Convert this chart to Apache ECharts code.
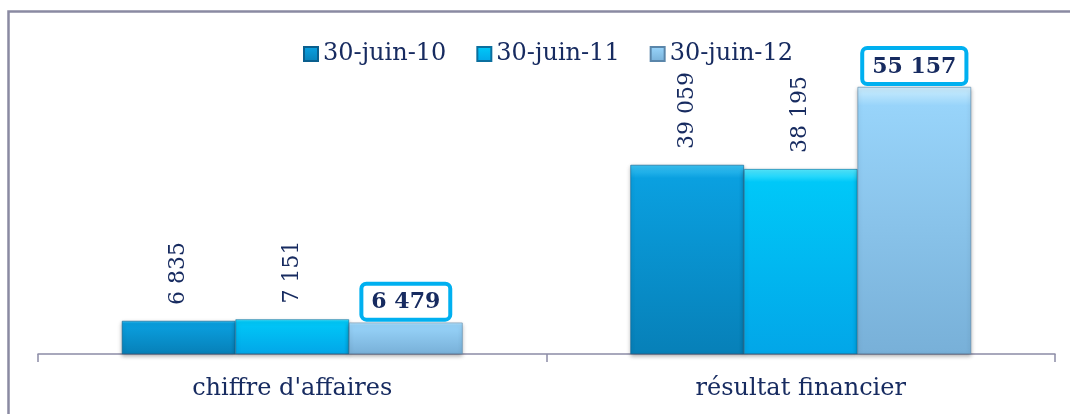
<!DOCTYPE html>
<html>
<head>
<meta charset="utf-8">
<script src="https://cdn.jsdelivr.net/npm/echarts@6/dist/echarts.min.js"></script>
<style>
html,body{margin:0;padding:0;background:#fff;}
#chart{width:1070px;height:414px;}
</style>
</head>
<body>
<div id="chart"></div>
<script>
var categories = ["chiffre d'affaires", "résultat financier"];
var seriesNames = ['30-juin-10', '30-juin-11', '30-juin-12'];
var juin10 = [6835, 39059];
var juin11 = [7151, 38195];
var juin12 = [6479, 55157];

var textColor = '#172b60';
var fontFamily = '"DejaVu Serif", "Liberation Serif", serif';

//format 6835 -> "6 835"
function formatValue(v){
    return String(v).replace(/\B(?=(\d{3})+(?!\d))/g, ' ');
}

function barColor(top, mid, bottom){
    return new echarts.graphic.LinearGradient(0, 0, 0, 1, [
        {offset: 0, color: top},
        {offset: 0.07, color: mid},
        {offset: 1, color: bottom}
    ]);
}

var rotatedLabel = {
    show: true,
    position: 'top',
    rotate: 90,
    align: 'left',
    verticalAlign: 'middle',
    distance: 16,
    color: textColor,
    fontFamily: fontFamily,
    fontSize: 22,
    formatter: function(p){ return formatValue(p.value); }
};

var chart = echarts.init(document.getElementById('chart'));
chart.setOption({
    animation: false,
    backgroundColor: '#fff',
    graphic: [{
        type: 'polyline',
        shape: {points: [[8.5, 414], [8.5, 11.5], [1070, 11.5]]},
        style: {stroke: '#8a8aa2', lineWidth: 2.5, fill: null}
    }],
    legend: {
        left: 298,
        top: 37,
        itemWidth: 14,
        itemHeight: 14,
        itemGap: 30,
        icon: 'rect',
        data: seriesNames,
        textStyle: {color: textColor, fontFamily: fontFamily, fontSize: 24}
    },
    grid: {left: 38, right: 15, top: 63.5, bottom: 60},
    xAxis: {
        type: 'category',
        data: categories,
        axisLine: {show: true, lineStyle: {color: '#8c8ca6', width: 1.5}},
        axisTick: {show: true, length: 8, lineStyle: {color: '#8c8ca6', width: 1.5}},
        axisLabel: {color: textColor, fontFamily: fontFamily, fontSize: 24, margin: 23}
    },
    yAxis: {
        type: 'value',
        min: 0,
        max: 60000,
        show: false,
        splitLine: {show: false}
    },
    series: [{
        name: seriesNames[0],
        type: 'bar',
        data: juin10,
        barGap: '0%',
        barCategoryGap: '33%',
        itemStyle: {
            color: barColor('#3cc4f4', '#0aa0e0', '#0780b8'),
            borderColor: '#0a5f8e',
            borderWidth: 0.6,
            shadowColor: 'rgba(0,0,0,0.3)',
            shadowBlur: 4,
            shadowOffsetY: 2
        },
        label: rotatedLabel
    }, {
        name: seriesNames[1],
        type: 'bar',
        data: juin11,
        itemStyle: {
            color: barColor('#55eaff', '#00c8f8', '#02a6e8'),
            borderColor: '#0b6f9e',
            borderWidth: 0.6,
            shadowColor: 'rgba(0,0,0,0.3)',
            shadowBlur: 4,
            shadowOffsetY: 2
        },
        label: rotatedLabel
    }, {
        name: seriesNames[2],
        type: 'bar',
        data: juin12,
        itemStyle: {
            color: barColor('#cdeefe', '#98d4fa', '#78b0d8'),
            borderColor: '#5a86aa',
            borderWidth: 0.6,
            shadowColor: 'rgba(0,0,0,0.3)',
            shadowBlur: 4,
            shadowOffsetY: 2
        },
        label: {
            show: true,
            position: 'top',
            distance: 5,
            color: textColor,
            fontFamily: fontFamily,
            fontSize: 22,
            fontWeight: 'bold',
            backgroundColor: '#fff',
            borderColor: '#00b0f0',
            borderWidth: 4,
            borderRadius: 3,
            padding: [6, 8, 4, 8],
            formatter: function(p){ return formatValue(p.value); }
        }
    }]
});
</script>
</body>
</html>
